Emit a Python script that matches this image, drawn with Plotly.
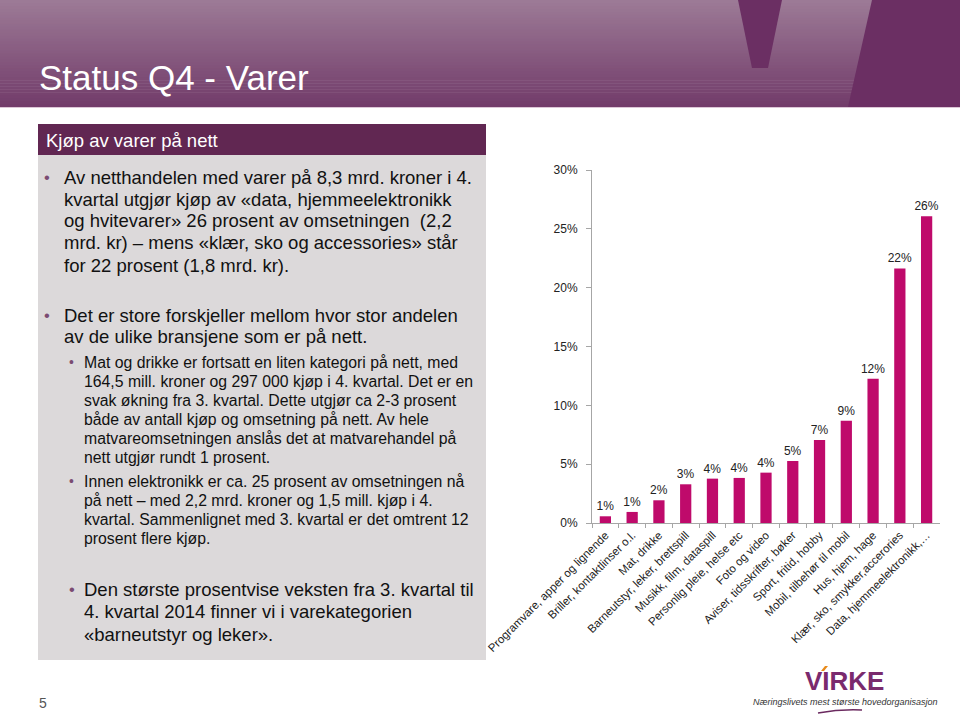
import plotly.graph_objects as go

# ---------------- data ----------------
categories = [
    "Programvare, apper og lignende",
    "Briller, kontaktlinser o.l.",
    "Mat, drikke",
    "Barneutstyr, leker, brettspill",
    "Musikk, film, dataspill",
    "Personlig pleie, helse etc",
    "Foto og video",
    "Aviser, tidsskrifter, bøker",
    "Sport, fritid, hobby",
    "Mobil, tilbehør til mobil",
    "Hus, hjem, hage",
    "Klær, sko, smykker,accerories",
    "Data, hjemmeelektronikk,…",
]
shares = [0.0057, 0.0094, 0.0193, 0.0329, 0.0377, 0.0383, 0.0428,
          0.0527, 0.0706, 0.0870, 0.1225, 0.2163, 0.2608]
y_tick_vals = [0, 0.05, 0.10, 0.15, 0.20, 0.25, 0.30]

title_text = "Status Q4 - Varer"
box_header = "Kjøp av varer på nett"
para1 = ["Av netthandelen med varer på 8,3 mrd. kroner i 4.",
         "kvartal utgjør kjøp av «data, hjemmeelektronikk",
         "og hvitevarer» 26 prosent av omsetningen  (2,2",
         "mrd. kr) – mens «klær, sko og accessories» står",
         "for 22 prosent (1,8 mrd. kr)."]
para2 = ["Det er store forskjeller mellom hvor stor andelen",
         "av de ulike bransjene som er på nett."]
sub1 = ["Mat og drikke er fortsatt en liten kategori på nett, med",
        "164,5 mill. kroner og 297 000 kjøp i 4. kvartal. Det er en",
        "svak økning fra 3. kvartal. Dette utgjør ca 2-3 prosent",
        "både av antall kjøp og omsetning på nett. Av hele",
        "matvareomsetningen anslås det at matvarehandel på",
        "nett utgjør rundt 1 prosent."]
sub2 = ["Innen elektronikk er ca. 25 prosent av omsetningen nå",
        "på nett – med 2,2 mrd. kroner og 1,5 mill. kjøp i 4.",
        "kvartal. Sammenlignet med 3. kvartal er det omtrent 12",
        "prosent flere kjøp."]
para3 = ["Den største prosentvise veksten fra 3. kvartal til",
         "4. kvartal 2014 finner vi i varekategorien",
         "«barneutstyr og leker»."]

W, H = 960, 717
def X(px): return px / W
def Y(py): return 1 - py / H

FONT = "Liberation Sans, Arial, sans-serif"
NARROW = "Liberation Sans Narrow, Arial Narrow, Liberation Sans, sans-serif"
BAR = "#bf0a6b"

fig = go.Figure()
fig.add_trace(go.Bar(
    x=categories, y=shares, marker_color=BAR, marker_line_width=0,
    texttemplate="%{y:.0%}", textposition="outside", cliponaxis=False,
    constraintext="none",
    textfont=dict(size=12, color="#222222", family=FONT),
    hoverinfo="skip",
))

shapes = []
# header gradient band
top = (156, 122, 150)
bot = (114, 60, 106)
n = 36
for i in range(n):
    t = i / (n - 1)
    c = tuple(int(round(top[k] + (bot[k] - top[k]) * t)) for k in range(3))
    y0 = 107 * i / n
    y1 = 107 * (i + 1) / n + 0.6
    shapes.append(dict(type="rect", xref="paper", yref="paper",
                       x0=0, x1=1, y0=Y(y1), y1=Y(y0),
                       fillcolor="rgb(%d,%d,%d)" % c, line_width=0, layer="below"))
VCOL = "#6b2f63"
shapes.append(dict(type="path", xref="paper", yref="paper", layer="below",
                   path="M %f %f L %f %f L %f %f L %f %f Z" % (
                       X(738), Y(0), X(782), Y(0), X(768), Y(68), X(752), Y(68)),
                   fillcolor=VCOL, line_width=0))
shapes.append(dict(type="path", xref="paper", yref="paper", layer="below",
                   path="M %f %f L %f %f L %f %f L %f %f Z" % (
                       X(872), Y(0), X(960), Y(0), X(960), Y(107), X(848), Y(107)),
                   fillcolor=VCOL, line_width=0))
shapes.append(dict(type="line", xref="paper", yref="paper", layer="below",
                   x0=0, x1=1, y0=Y(107.5), y1=Y(107.5),
                   line=dict(color="#dcc6d6", width=1)))
# text box
shapes.append(dict(type="rect", xref="paper", yref="paper", layer="below",
                   x0=X(38), x1=X(486), y0=Y(660), y1=Y(124),
                   fillcolor="#dcd9da", line_width=0))
shapes.append(dict(type="rect", xref="paper", yref="paper", layer="below",
                   x0=X(38), x1=X(486), y0=Y(155), y1=Y(124),
                   fillcolor="#612752", line_width=0))
# logo swoosh
shapes.append(dict(type="path", xref="paper", yref="paper",
                   path="M %f %f Q %f %f %f %f" % (X(818), Y(713), X(840), Y(709), X(862), Y(710)),
                   line=dict(color="#6b2a60", width=1.5)))
# orange accent on logo I
shapes.append(dict(type="path", xref="paper", yref="paper",
                   path="M %f %f L %f %f L %f %f L %f %f Z" % (
                       X(821), Y(671), X(825), Y(666), X(828), Y(666), X(824), Y(671)),
                   fillcolor="#e88a1a", line_width=0))

ann = []
ann.append(dict(text=title_text, x=X(37), y=Y(78), xref="paper", yref="paper",
                xanchor="left", yanchor="middle", showarrow=False,
                font=dict(family=NARROW, size=35, color="white")))
ann.append(dict(text=box_header, x=X(44), y=Y(140), xref="paper", yref="paper",
                xanchor="left", yanchor="middle", showarrow=False,
                font=dict(family=FONT, size=18.5, color="white")))

BUL = "#7b4b72"
def add_lines(lines, y0, step, xtext, xbul, size):
    ann.append(dict(text="•", x=X(xbul), y=Y(y0), xref="paper", yref="paper",
                    xanchor="left", yanchor="middle", showarrow=False,
                    font=dict(family=FONT, size=size - 2, color=BUL)))
    for i, line in enumerate(lines):
        ann.append(dict(text=line, x=X(xtext), y=Y(y0 + step * i), xref="paper", yref="paper",
                        xanchor="left", yanchor="middle", showarrow=False,
                        font=dict(family=FONT, size=size, color="#111111")))

add_lines(para1, 177, 22, 62, 42, 18.5)
add_lines(para2, 315, 22, 62, 42, 18.5)
add_lines(sub1, 362, 19, 82, 67, 15.8)
add_lines(sub2, 481, 19, 82, 67, 15.8)
add_lines(para3, 589, 22.5, 82, 67, 18.5)

ann.append(dict(text="5", x=X(37), y=Y(703), xref="paper", yref="paper",
                xanchor="left", yanchor="middle", showarrow=False,
                font=dict(family=FONT, size=14, color="#555555")))
ann.append(dict(text="<b>VIRKE</b>", x=X(844), y=Y(681), xref="paper", yref="paper",
                xanchor="center", yanchor="middle", showarrow=False,
                font=dict(family=NARROW, size=26, color="#7a2a6e")))
ann.append(dict(text="<i>Næringslivets mest største hovedorganisasjon</i>", x=X(845), y=Y(702),
                xref="paper", yref="paper", xanchor="center", yanchor="middle", showarrow=False,
                font=dict(family=NARROW, size=9, color="#333333")))

fig.update_layout(
    width=W, height=H, margin=dict(l=0, r=0, t=0, b=0, autoexpand=False),
    paper_bgcolor="white", plot_bgcolor="rgba(0,0,0,0)",
    showlegend=False, bargap=0.58,
    font=dict(family=FONT, color="#222222"),
    shapes=shapes, annotations=ann,
    xaxis=dict(domain=[X(592), X(940)], showline=True, linecolor="#a6a6a6",
               ticks="outside", tickson="boundaries", ticklen=4, tickcolor="#a6a6a6",
               tickangle=-45, tickfont=dict(size=11.5, color="#222222", family=FONT),
               showgrid=False, fixedrange=True, automargin=False),
    yaxis=dict(domain=[Y(523), Y(170)], range=[0, 0.30], tickvals=y_tick_vals,
               tickformat=".0%", showline=True, linecolor="#a6a6a6",
               ticks="outside", ticklen=5, tickcolor="#a6a6a6",
               tickfont=dict(size=12, color="#222222", family=FONT),
               showgrid=False, zeroline=False, fixedrange=True, ticklabelstandoff=6,
               automargin=False),
)

fig.write_html("out.html", config={"displayModeBar": False},
               post_script="document.body.style.margin='0px';document.body.style.overflow='hidden';")
